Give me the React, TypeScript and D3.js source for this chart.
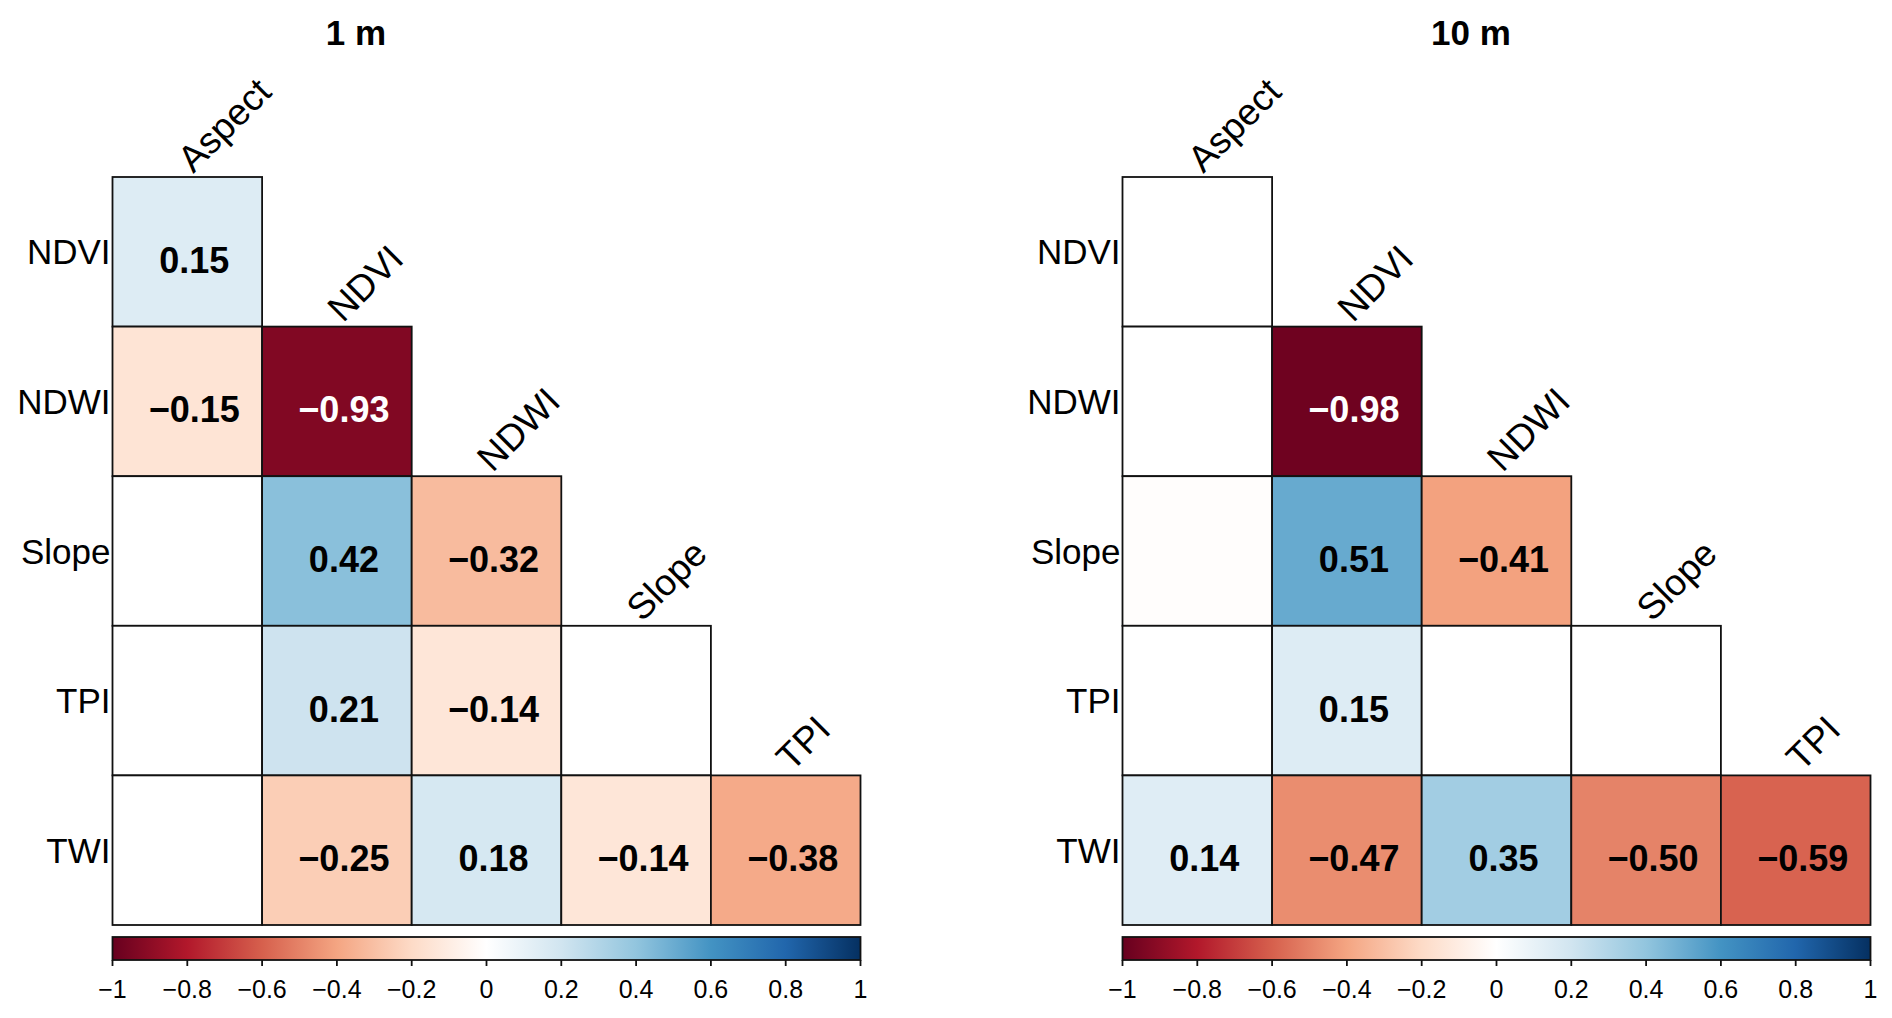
import { useEffect, useRef } from "react";
import * as d3 from "d3";

// variables of the lower-triangle correlation matrix
const rowVars = ["NDVI", "NDWI", "Slope", "TPI", "TWI"];
const colVars = ["Aspect", "NDVI", "NDWI", "Slope", "TPI"];

// null = not significant (blank cell)
const corr1m: (number | null)[][] = [
  [0.15],
  [-0.15, -0.93],
  [null, 0.42, -0.32],
  [null, 0.21, -0.14, null],
  [null, -0.25, 0.18, -0.14, -0.38],
];

const corr10m: (number | null)[][] = [
  [null],
  [null, -0.98],
  [-0.01, 0.51, -0.41],
  [null, 0.15, null, null],
  [0.14, -0.47, 0.35, -0.5, -0.59],
];

const panelTitles = ["1 m", "10 m"];
const legendTicks = [-1, -0.8, -0.6, -0.4, -0.2, 0, 0.2, 0.4, 0.6, 0.8, 1];

// corrplot RdBu palette, white in the middle
const rdBu = [
  "#67001F", "#B2182B", "#D6604D", "#F4A582", "#FDDBC7", "#FFFFFF",
  "#D1E5F0", "#92C5DE", "#4393C3", "#2166AC", "#053061",
];

const labelMin = 0.1; // coefficients smaller than this are not printed

const W = 1892;
const H = 1018;
const FONT = "'Liberation Sans', Arial, sans-serif";

const App = () => {
  const ref = useRef<SVGSVGElement | null>(null);

  useEffect(() => {
    if (!ref.current) return;
    const svg = d3.select(ref.current);
    svg.selectAll("*").remove();

    const color = d3
      .scaleLinear<string>()
      .domain(d3.range(rdBu.length).map(i => -1 + (2 * i) / (rdBu.length - 1)))
      .range(rdBu)
      .interpolate(d3.interpolateRgb);

    const fmt = d3.format(".2f");
    const tickFmt = d3.format("~g");

    const defs = svg.append("defs");
    const grad = defs
      .append("linearGradient")
      .attr("id", "rdbu")
      .attr("x1", "0%")
      .attr("x2", "100%");
    grad
      .selectAll("stop")
      .data(rdBu)
      .join("stop")
      .attr("offset", (_, i) => `${(i / (rdBu.length - 1)) * 100}%`)
      .attr("stop-color", d => d);

    const panels = [
      { data: corr1m, x0: 112.5, titleX: 356 },
      { data: corr10m, x0: 1122.5, titleX: 1471 },
    ];
    const gridTop = 177;
    const gridSize = 748;

    panels.forEach((p, pi) => {
      const g = svg.append("g");

      const x = d3
        .scaleBand()
        .domain(colVars)
        .range([p.x0, p.x0 + gridSize]);
      const y = d3
        .scaleBand()
        .domain(rowVars)
        .range([gridTop, gridTop + gridSize]);
      const bw = x.bandwidth();
      const bh = y.bandwidth();

      g.append("text")
        .attr("x", p.titleX)
        .attr("y", 45)
        .attr("text-anchor", "middle")
        .attr("font-family", FONT)
        .attr("font-weight", "bold")
        .attr("font-size", 35)
        .text(panelTitles[pi]);

      const cells = p.data.flatMap((row, ri) =>
        row.map((v, ci) => ({ row: rowVars[ri], col: colVars[ci], v }))
      );

      g.selectAll("rect.cell")
        .data(cells)
        .join("rect")
        .attr("class", "cell")
        .attr("x", d => x(d.col)!)
        .attr("y", d => y(d.row)!)
        .attr("width", bw)
        .attr("height", bh)
        .attr("fill", d => (d.v === null ? "#ffffff" : color(d.v)))
        .attr("stroke", "#111")
        .attr("stroke-width", 1.8);

      g.selectAll("text.coef")
        .data(cells.filter(d => d.v !== null && Math.abs(d.v) >= labelMin))
        .join("text")
        .attr("class", "coef")
        .attr("x", d => x(d.col)! + bw / 2 + 7)
        .attr("y", d => y(d.row)! + bh / 2 + 21)
        .attr("text-anchor", "middle")
        .attr("font-family", FONT)
        .attr("font-weight", "bold")
        .attr("font-size", 36)
        .attr("fill", d => (Math.abs(d.v!) > 0.8 ? "#ffffff" : "#000000"))
        .text(d => fmt(d.v!));

      // row labels
      g.selectAll("text.rowlab")
        .data(rowVars)
        .join("text")
        .attr("class", "rowlab")
        .attr("x", p.x0 - 2)
        .attr("y", d => y(d)! + bh / 2 + 12.5)
        .attr("text-anchor", "end")
        .attr("font-family", FONT)
        .attr("font-size", 35)
        .text(d => d);

      // column labels, rotated above the top cell of each column
      g.selectAll("text.collab")
        .data(colVars)
        .join("text")
        .attr("class", "collab")
        .attr("transform", (d, i) => {
          const cx = x(d)! + bw / 2 + 6;
          const cy = y(rowVars[i])! - 3;
          return `translate(${cx},${cy}) rotate(-45)`;
        })
        .attr("text-anchor", "start")
        .attr("font-family", FONT)
        .attr("font-size", 37)
        .text(d => d);

      // colour legend
      const lx = d3
        .scaleLinear()
        .domain([-1, 1])
        .range([p.x0, p.x0 + gridSize]);
      const barTop = 937;
      const barH = 23;
      g.append("rect")
        .attr("x", lx(-1))
        .attr("y", barTop)
        .attr("width", lx(1) - lx(-1))
        .attr("height", barH)
        .attr("fill", "url(#rdbu)")
        .attr("stroke", "#111")
        .attr("stroke-width", 1.8);

      g.selectAll("line.tick")
        .data(legendTicks)
        .join("line")
        .attr("class", "tick")
        .attr("x1", d => lx(d))
        .attr("x2", d => lx(d))
        .attr("y1", barTop + barH)
        .attr("y2", barTop + barH + 6)
        .attr("stroke", "#111")
        .attr("stroke-width", 1.8);

      g.selectAll("text.ticklab")
        .data(legendTicks)
        .join("text")
        .attr("class", "ticklab")
        .attr("x", d => lx(d))
        .attr("y", 998)
        .attr("text-anchor", "middle")
        .attr("font-family", FONT)
        .attr("font-size", 25)
        .text(d => tickFmt(d));
    });
  }, []);

  return (
    <svg
      ref={ref}
      width={W}
      height={H}
      style={{ position: "absolute", left: 0, top: 0, background: "#fff" }}
    />
  );
};

export default App;
